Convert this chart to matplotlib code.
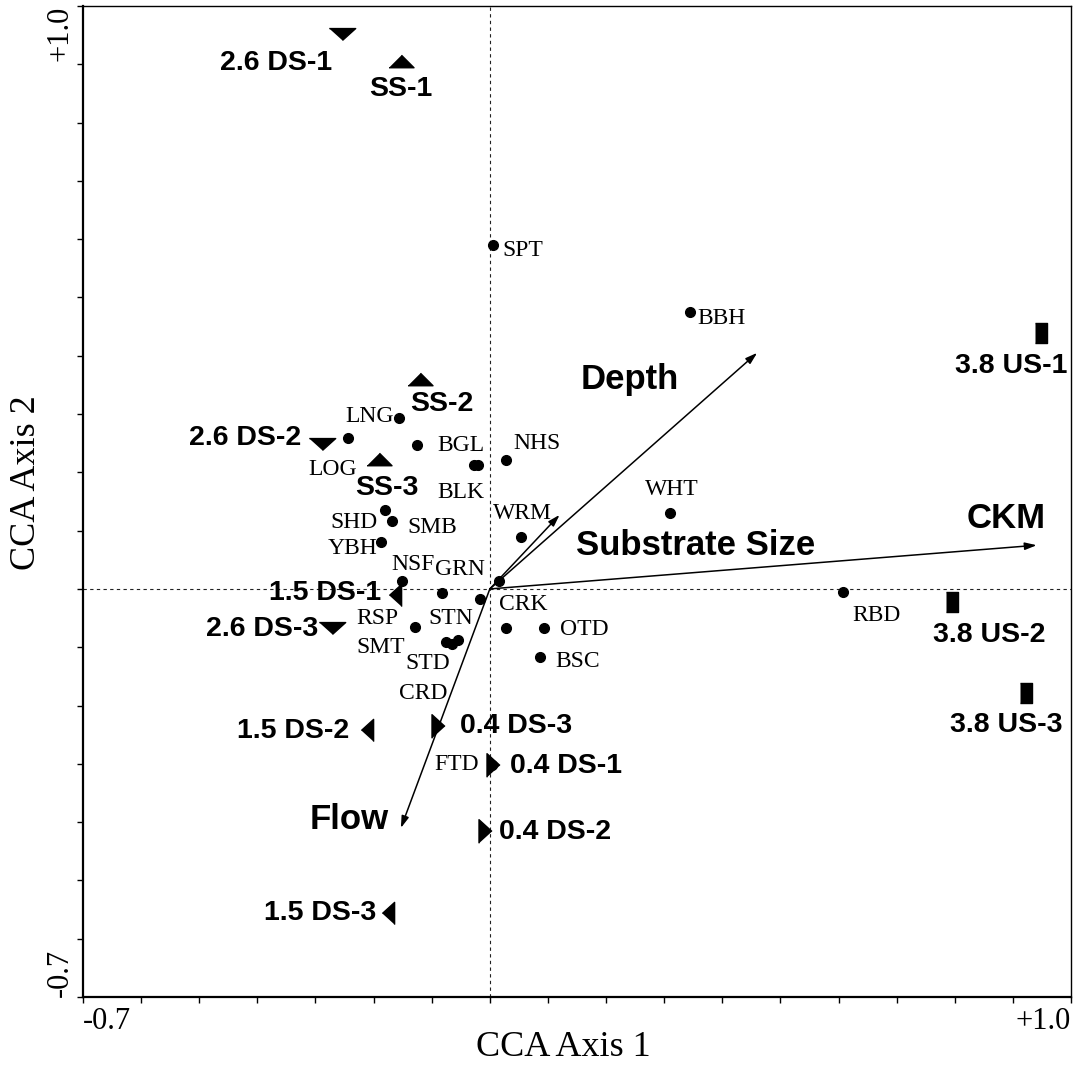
"""CCA biplot of fish species, sampling sites and environmental vectors."""

import matplotlib

matplotlib.use("Agg")

import matplotlib.pyplot as plt
import numpy as np

# species scores (axis 1, axis 2); blank names are unlabelled points
species_names = ["SPT", "BBH", "LNG", "LOG", "", "BGL", "BLK", "NHS", "SHD", "SMB",
                 "YBH", "WRM", "WHT", "NSF", "GRN", "STN", "RSP", "SMT", "STD", "CRD",
                 "CRK", "OTD", "BSC", "RBD", "FTD", ""]
species_x = [0.005, 0.344, -0.157, -0.244, -0.126, -0.028, -0.021, 0.028, -0.181, -0.169,
             -0.188, 0.053, 0.310, -0.151, -0.083, -0.017, -0.129, -0.076, -0.055, -0.065,
             0.028, 0.093, 0.086, 0.608, 0.003, 0.015]
species_y = [0.590, 0.475, 0.293, 0.259, 0.247, 0.213, 0.213, 0.221, 0.136, 0.117,
             0.081, 0.089, 0.130, 0.014, -0.007, -0.017, -0.065, -0.091, -0.087, -0.094,
             -0.067, -0.067, -0.117, -0.005, -0.302, 0.014]

# site scores, grouped by reach
site_names = ["2.6 DS-1", "SS-1", "SS-2", "2.6 DS-2", "SS-3", "1.5 DS-1", "2.6 DS-3",
              "1.5 DS-2", "0.4 DS-3", "0.4 DS-1", "0.4 DS-2", "1.5 DS-3",
              "3.8 US-1", "3.8 US-2", "3.8 US-3"]
site_groups = ["2.6", "SS", "SS", "2.6", "SS", "1.5", "2.6",
               "1.5", "0.4", "0.4", "0.4", "1.5",
               "3.8", "3.8", "3.8"]
site_x = [-0.255, -0.153, -0.120, -0.289, -0.191, -0.164, -0.272,
          -0.212, -0.089, 0.005, -0.009, -0.175,
          0.948, 0.795, 0.922]
site_y = [0.952, 0.906, 0.360, 0.249, 0.223, -0.010, -0.067,
          -0.242, -0.235, -0.302, -0.415, -0.556,
          0.439, -0.022, -0.179]

# environmental vectors
env_names = ["Depth", "Substrate Size", "CKM", "Flow"]
env_x = [0.460, 0.120, 0.941, -0.153]
env_y = [0.405, 0.127, 0.075, -0.410]

# label offsets in points (centre of text relative to its point)
species_offsets = {
    "SPT": (22, -4), "BBH": (23, -5), "LNG": (-21, 1), "LOG": (-11, -23),
    "BGL": (-9, 14), "BLK": (-12, -20), "NHS": (22, 12), "SHD": (-22, -9),
    "SMB": (29, -5), "YBH": (-20, -5), "WRM": (1, 17), "WHT": (1, 17),
    "NSF": (8, 12), "GRN": (13, 17), "STN": (-21, -14), "RSP": (-27, 6),
    "SMT": (-47, -4), "STD": (-22, -17), "CRD": (-21, -36), "CRK": (12, 17),
    "OTD": (29, -1), "BSC": (27, -3), "RBD": (24, -17), "FTD": (-25, 0),
}
site_offsets = {
    "2.6 DS-1": (-47, -21), "SS-1": (0, -20), "SS-2": (16, -18),
    "2.6 DS-2": (-55, 4), "SS-3": (6, -21), "1.5 DS-1": (-50, 1),
    "2.6 DS-3": (-50, -1), "1.5 DS-2": (-53, -1), "0.4 DS-3": (56, 0),
    "0.4 DS-1": (53, -1), "0.4 DS-2": (51, -1), "1.5 DS-3": (-49, 0),
    "3.8 US-1": (-21, -24), "3.8 US-2": (27, -24), "3.8 US-3": (-14, -23),
}
env_offsets = {"Depth": (-92, -19), "Substrate Size": (98, -22),
               "CKM": (-22, 19), "Flow": (-37, 6)}

# flattened marker shapes for each reach
group_markers = {
    "SS": ([(-1, -0.5), (1, -0.5), (0, 0.5)], 18),
    "2.6": ([(-1, 0.45), (1, 0.45), (0, -0.45)], 19),
    "1.5": ([(0.55, -1), (0.55, 1), (-0.55, 0)], 16),
    "0.4": ([(-0.55, -1), (-0.55, 1), (0.55, 0)], 17),
    "3.8": ([(-0.55, -1), (0.55, -1), (0.55, 1), (-0.55, 1)], 15),
}

SERIF = "Liberation Serif"
SANS = "Liberation Sans"

fig = plt.figure(figsize=(10.8, 10.74), dpi=100)
ax = fig.add_axes([83 / 1080, 1 - 997 / 1074, 988 / 1080, 991 / 1074])
ax.set_xlim(-0.7, 1.0)
ax.set_ylim(-0.7, 1.0)

ax.axhline(0, color="#222222", lw=0.8, ls=(0, (3, 3)), zorder=1)
ax.axvline(0, color="#222222", lw=0.8, ls=(0, (3, 3)), zorder=1)

for name, ex, ey in zip(env_names, env_x, env_y):
    ax.annotate("", xy=(ex, ey), xytext=(0, 0),
                arrowprops=dict(arrowstyle="-|>,head_length=0.7,head_width=0.22",
                                color="black", lw=1.1, shrinkA=0, shrinkB=0),
                zorder=2)
    ax.annotate(name, xy=(ex, ey), xytext=env_offsets[name], textcoords="offset points",
                ha="center", va="center", fontsize=25, fontweight="bold",
                family=SANS, zorder=5)

ax.plot(species_x, species_y, "o", color="black", ms=7, zorder=3)
for name, sx, sy in zip(species_names, species_x, species_y):
    if not name:
        continue
    ax.annotate(name, xy=(sx, sy), xytext=species_offsets[name], textcoords="offset points",
                ha="center", va="center", fontsize=17, family=SERIF, zorder=5)

for name, grp, px, py in zip(site_names, site_groups, site_x, site_y):
    verts, size = group_markers[grp]
    ax.plot(px, py, marker=verts, color="black", ms=size, ls="none", zorder=4)
    ax.annotate(name, xy=(px, py), xytext=site_offsets[name], textcoords="offset points",
                ha="center", va="center", fontsize=20.5, fontweight="bold",
                family=SANS, zorder=5)

ticks = np.round(np.arange(-0.7, 1.0001, 0.1), 1)
labels = [""] * len(ticks)
labels[0], labels[-1] = "-0.7", "+1.0"
ax.set_xticks(ticks, labels)
ax.set_yticks(ticks, labels)
ax.tick_params(direction="out", length=4, width=1.0, labelsize=22)
ax.tick_params(axis="x", pad=3)
ax.tick_params(axis="y", pad=2)
for lab in ax.get_xticklabels() + ax.get_yticklabels():
    lab.set_family(SERIF)
xl = ax.get_xticklabels()
xl[0].set_ha("left")
xl[-1].set_ha("right")
yl = ax.get_yticklabels()
for lab in yl:
    lab.set_rotation(90)
yl[0].set_va("bottom")
yl[-1].set_va("top")

for side in ("top", "right"):
    ax.spines[side].set_linewidth(1.0)
for side in ("left", "bottom"):
    ax.spines[side].set_linewidth(1.6)

ax.set_xlabel("CCA Axis 1", fontsize=26, family=SERIF)
ax.set_ylabel("CCA Axis 2", fontsize=26, family=SERIF)
ax.xaxis.set_label_coords(0.486, -0.034)
ax.yaxis.set_label_coords(-0.040, 0.519)

fig.savefig("out.png", dpi=100, facecolor="white")
